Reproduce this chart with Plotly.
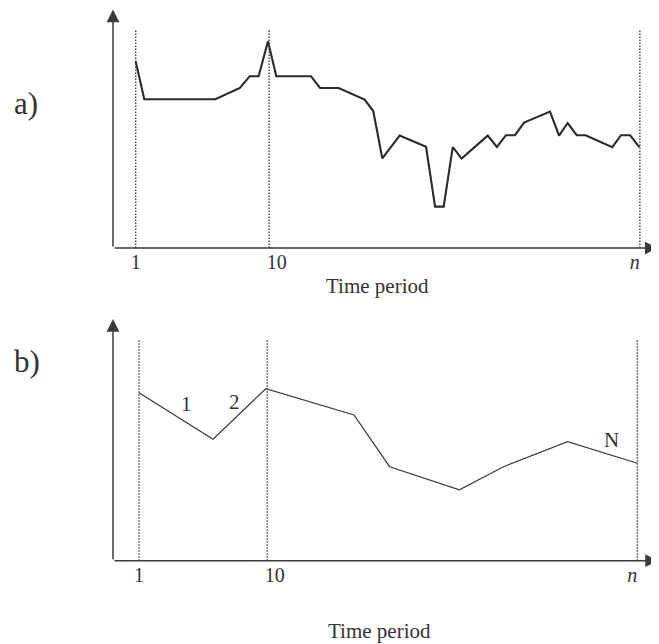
import plotly.graph_objects as go

# ---- data (panel a: detailed series) ----
a_time = [1.0, 1.58, 6.37, 8.03, 8.69, 9.29, 9.92, 10.48, 12.82, 13.43, 14.69, 16.44,
          17.02, 17.63, 18.80, 20.58, 21.19, 21.77, 22.38, 22.98, 24.74, 25.36, 25.97,
          26.58, 27.19, 28.94, 29.55, 30.13, 30.74, 31.34, 33.14, 33.73, 34.34, 34.96]
a_value = [93.2, 74.4, 74.4, 80.0, 85.9, 85.9, 103.4, 85.9, 85.9, 80.0, 80.0, 74.2,
           68.5, 44.8, 56.2, 50.6, 20.7, 20.7, 50.4, 44.7, 56.2, 50.5, 56.4,
           56.4, 62.7, 68.2, 56.2, 62.5, 56.4, 56.4, 50.4, 56.4, 56.4, 50.4]

# ---- data (panel b: segmented series) ----
b_time = [1.0, 6.2, 9.9, 16.1, 18.6, 23.5, 26.6, 31.1, 36.0]
b_value = [84.0, 60.7, 86.0, 72.9, 47.0, 35.4, 47.0, 59.5, 48.7]

# tick labels
a_tickvals = [1, 10, 35]
b_tickvals = [1, 10, 36]
NB = "\u00a0"
tick_text = ["1", NB * 3 + "10", "<i>n</i>" + NB * 2]

# segment labels for panel b
seg_labels = ["1", "2", "N"]
seg_x = [4.34, 7.71, 34.19]
seg_y = [78.1, 79.35, 60.35]

# the page body has an 8px margin; the figure is sized to fit the window
OFF = 8
W, H = 651, 636
INK = "#333333"
SERIF = "Liberation Serif, Times New Roman, serif"


def px_x(p):
    return (p - OFF) / W


def px_y(p):
    return 1 - (p - OFF) / H


a_xr = [-0.531, 36.29]
b_xr = [-0.826, 37.52]
a_yr = [0, 120]
b_yr = [0, 120.85]

fig = go.Figure()
fig.add_trace(go.Scatter(x=a_time, y=a_value, mode="lines",
                         line=dict(color="#2a2a2a", width=2.1), xaxis="x", yaxis="y",
                         showlegend=False, hoverinfo="skip"))
fig.add_trace(go.Scatter(x=b_time, y=b_value, mode="lines",
                         line=dict(color="#3a3a3a", width=1.2), xaxis="x2", yaxis="y2",
                         showlegend=False, hoverinfo="skip"))

fig.update_layout(
    width=W, height=H, margin=dict(l=0, r=0, t=0, b=0),
    paper_bgcolor="white", plot_bgcolor="rgba(0,0,0,0)",
    font=dict(family=SERIF, color=INK),
    xaxis=dict(domain=[px_x(113), 1], range=a_xr, showgrid=False, zeroline=False, showline=False,
               tickvals=a_tickvals, ticktext=tick_text, tickfont=dict(size=20, family=SERIF, color=INK),
               ticks="", anchor="y"),
    yaxis=dict(domain=[px_y(248), px_y(8)], range=a_yr, showgrid=False, zeroline=False,
               showline=False, showticklabels=False, anchor="x"),
    xaxis2=dict(domain=[px_x(113), 1], range=b_xr, showgrid=False, zeroline=False, showline=False,
                tickvals=b_tickvals, ticktext=tick_text, tickfont=dict(size=20, family=SERIF, color=INK),
                ticks="", anchor="y2"),
    yaxis2=dict(domain=[px_y(560.7), px_y(319)], range=b_yr, showgrid=False, zeroline=False,
                showline=False, showticklabels=False, anchor="x2"),
)

# dotted vertical reference lines
DOT = dict(color="#444444", width=1.4, dash="1.5px,1.5px")
for xv in a_tickvals:
    fig.add_shape(type="line", xref="x", yref="y", x0=xv, x1=xv, y0=0, y1=109.5, line=DOT)
for xv in b_tickvals:
    fig.add_shape(type="line", xref="x2", yref="y2", x0=xv, x1=xv, y0=0, y1=110.7, line=DOT)


# axes with arrowheads
def arrow(xref, yref, xs, ys, xe, ye):
    fig.add_annotation(xref=xref, yref=yref, axref=xref, ayref=yref,
                       x=xe, y=ye, ax=xs, ay=ys, text="", showarrow=True,
                       arrowhead=2, arrowsize=1.7, arrowwidth=1.5, arrowcolor="#3a3a3a",
                       standoff=0, startstandoff=0)


arrow("x", "y", a_xr[0], 0, 36.2, 0)
arrow("x", "y", a_xr[0], 0, a_xr[0], 119.3)
arrow("x2", "y2", b_xr[0], 0, 37.45, 0)
arrow("x2", "y2", b_xr[0], 0, b_xr[0], b_yr[1])


def label(x, y, text, size):
    fig.add_annotation(xref="paper", yref="paper", x=px_x(x), y=px_y(y), text=text,
                       xanchor="center", yanchor="middle", showarrow=False,
                       font=dict(size=size, family=SERIF, color=INK))


# panel letters
label(26, 104, "a)", 31)
label(27, 361, "b)", 31)

# axis titles
label(377.5, 286, "Time period", 21)
label(379, 631, "Time period", 21)

# segment labels in panel b
for t, xv, yv in zip(seg_labels, seg_x, seg_y):
    fig.add_annotation(xref="x2", yref="y2", x=xv, y=yv, text=t, showarrow=False,
                       xanchor="center", yanchor="middle",
                       font=dict(size=21, family=SERIF, color=INK))

fig.write_html("out.html")
